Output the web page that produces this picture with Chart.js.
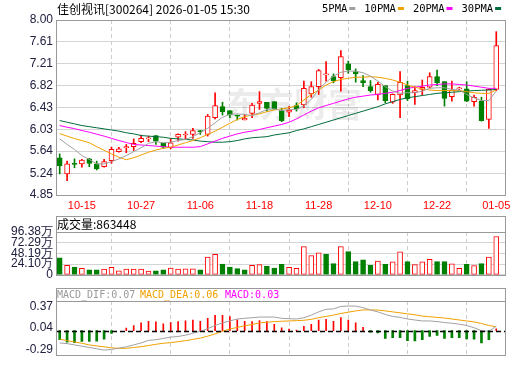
<!DOCTYPE html>
<html>
<head>
<meta charset="utf-8">
<script src="https://cdn.jsdelivr.net/npm/chart.js@4.4.1/dist/chart.umd.min.js"></script>
<style>
html, body { margin: 0; padding: 0; background: #fff; }
#wrap { position: relative; width: 520px; height: 365px; overflow: hidden; }
.pane { position: absolute; left: 0; width: 520px; }
</style>
</head>
<body>
<div id="wrap">
    <div class="pane" style="top:0;height:215px"><canvas id="kline"></canvas></div>
    <div class="pane" style="top:215px;height:70px"><canvas id="vol"></canvas></div>
    <div class="pane" style="top:285px;height:80px"><canvas id="macd"></canvas></div>
</div>
<script>
const title = '佳创视讯[300264] 2026-01-05 15:30';

const dates = ['10-10', '10-13', '10-14', '10-15', '10-16', '10-17', '10-20', '10-21', '10-22', '10-23',
    '10-24', '10-27', '10-28', '10-29', '10-30', '10-31', '11-03', '11-04', '11-05', '11-06',
    '11-07', '11-10', '11-11', '11-12', '11-13', '11-14', '11-17', '11-18', '11-19', '11-20',
    '11-21', '11-24', '11-25', '11-26', '11-27', '11-28', '12-01', '12-02', '12-03', '12-04',
    '12-05', '12-08', '12-09', '12-10', '12-11', '12-12', '12-15', '12-16', '12-17', '12-18',
    '12-19', '12-22', '12-23', '12-24', '12-25', '12-26', '12-29', '12-30', '12-31', '01-05'];
const dateTicks = ['10-15', '10-27', '11-06', '11-18', '11-28', '12-10', '12-22', '01-05'];

const openP = [5.52, 5.23, 5.42, 5.41, 5.50, 5.41, 5.36, 5.47, 5.63, 5.70,
    5.72, 5.81, 5.86, 5.92, 5.78, 5.70, 5.89, 5.93, 5.94, 6.01,
    5.94, 6.24, 6.44, 6.37, 6.29, 6.20, 6.32, 6.50, 6.52, 6.53,
    6.37, 6.34, 6.46, 6.47, 6.67, 6.80, 7.01, 6.98, 6.96, 7.21,
    7.07, 6.91, 6.80, 6.66, 6.82, 6.52, 6.65, 6.82, 6.69, 6.75,
    6.79, 6.98, 6.89, 6.62, 6.76, 6.76, 6.53, 6.54, 6.21, 6.75];
const highP = [5.59, 5.46, 5.50, 5.49, 5.51, 5.46, 5.49, 5.71, 5.71, 5.76,
    5.86, 5.93, 5.91, 5.92, 5.78, 5.87, 5.95, 5.99, 6.05, 6.01,
    6.30, 6.69, 6.52, 6.37, 6.29, 6.30, 6.50, 6.71, 6.52, 6.53,
    6.41, 6.44, 6.51, 6.90, 6.89, 7.11, 7.25, 7.03, 7.45, 7.26,
    7.12, 7.00, 6.91, 6.88, 6.82, 6.67, 7.07, 6.90, 6.80, 6.92,
    7.05, 7.10, 6.89, 6.90, 6.79, 6.89, 6.65, 6.61, 6.76, 7.79];
const lowP = [5.23, 5.11, 5.34, 5.35, 5.36, 5.30, 5.35, 5.42, 5.62, 5.61,
    5.65, 5.79, 5.81, 5.76, 5.69, 5.68, 5.82, 5.86, 5.87, 5.94,
    5.91, 6.22, 6.29, 6.24, 6.20, 6.20, 6.24, 6.39, 6.36, 6.39,
    6.17, 6.26, 6.36, 6.42, 6.61, 6.66, 6.90, 6.87, 6.72, 7.04,
    6.88, 6.80, 6.70, 6.56, 6.51, 6.50, 6.24, 6.55, 6.48, 6.65,
    6.78, 6.82, 6.45, 6.54, 6.74, 6.53, 6.45, 6.18, 6.05, 6.73];
const closeP = [5.38, 5.41, 5.40, 5.48, 5.42, 5.32, 5.45, 5.67, 5.68, 5.72,
    5.78, 5.87, 5.88, 5.82, 5.71, 5.79, 5.94, 5.945, 6.01, 5.99,
    6.27, 6.46, 6.35, 6.29, 6.27, 6.23, 6.47, 6.53, 6.41, 6.40,
    6.19, 6.38, 6.40, 6.77, 6.80, 7.09, 7.03, 6.91, 7.34, 7.10,
    7.03, 6.87, 6.73, 6.84, 6.55, 6.66, 6.88, 6.58, 6.73, 6.79,
    6.98, 6.87, 6.59, 6.74, 6.77, 6.54, 6.61, 6.19, 6.75, 7.54];

const ma5 = [5.86, 5.76, 5.67, 5.56, 5.49, 5.41, 5.41, 5.45, 5.50, 5.56,
    5.63, 5.70, 5.78, 5.81, 5.79, 5.80, 5.83, 5.85, 5.90, 5.97,
    6.05, 6.15, 6.25, 6.30, 6.31, 6.30, 6.28, 6.33, 6.39, 6.40,
    6.37, 6.39, 6.39, 6.45, 6.57, 6.75, 6.88, 6.99, 7.06, 7.08,
    7.08, 7.05, 6.99, 6.90, 6.80, 6.72, 6.68, 6.69, 6.69, 6.72,
    6.77, 6.78, 6.78, 6.75, 6.74, 6.66, 6.60, 6.55, 6.55, 6.72];
const ma10 = [5.955, 5.91, 5.865, 5.83, 5.79, 5.72, 5.655, 5.59, 5.53, 5.485,
    5.52, 5.57, 5.62, 5.66, 5.69, 5.71, 5.75, 5.79, 5.83, 5.88,
    5.94, 6.00, 6.07, 6.14, 6.21, 6.26, 6.29, 6.31, 6.35, 6.38,
    6.40, 6.42, 6.46, 6.56, 6.66, 6.74, 6.83, 6.89, 6.93, 6.95,
    6.97, 6.97, 6.98, 6.97, 6.95, 6.92, 6.88, 6.83, 6.79, 6.76,
    6.74, 6.73, 6.73, 6.73, 6.73, 6.71, 6.69, 6.68, 6.68, 6.74];
const ma20 = [6.10, 6.07, 6.045, 6.01, 5.98, 5.945, 5.91, 5.87, 5.83, 5.795,
    5.76, 5.75, 5.74, 5.73, 5.72, 5.71, 5.71, 5.71, 5.71, 5.72,
    5.77, 5.82, 5.87, 5.91, 5.95, 5.98, 6.00, 6.03, 6.06, 6.09,
    6.12, 6.16, 6.22, 6.29, 6.36, 6.42, 6.46, 6.50, 6.54, 6.58,
    6.61, 6.63, 6.65, 6.66, 6.68, 6.70, 6.73, 6.77, 6.79, 6.81,
    6.83, 6.84, 6.85, 6.85, 6.84, 6.83, 6.81, 6.79, 6.77, 6.77];
const ma30 = [6.19, 6.16, 6.13, 6.10, 6.08, 6.06, 6.04, 6.02, 6.00, 5.97,
    5.95, 5.92, 5.91, 5.90, 5.89, 5.87, 5.86, 5.85, 5.84, 5.82,
    5.81, 5.80, 5.80, 5.81, 5.83, 5.86, 5.88, 5.89, 5.90, 5.93,
    5.95, 5.97, 6.01, 6.04, 6.08, 6.12, 6.16, 6.20, 6.24, 6.28,
    6.32, 6.36, 6.40, 6.44, 6.49, 6.53, 6.57, 6.60, 6.62, 6.64,
    6.66, 6.68, 6.69, 6.70, 6.71, 6.72, 6.73, 6.735, 6.74, 6.75];

// volume in 万 (10k)
const volume = [38.4, 21.4, 17.4, 14.7, 11.2, 11.2, 12.7, 16.7, 9.2, 12.7,
    12.7, 12.7, 8.6, 9.2, 11.2, 15.3, 12.7, 13.3, 13.3, 11.2,
    39.8, 45.9, 24.1, 17.4, 13.9, 11.2, 21.4, 22.9, 19.4, 15.3,
    23.5, 16.7, 14.7, 63.7, 43.3, 49.4, 45.9, 25.5, 63.7, 52.1,
    29.6, 33.7, 21.4, 31.0, 23.5, 29.0, 51.5, 29.6, 22.9, 29.0,
    35.1, 29.6, 29.6, 24.9, 14.7, 23.5, 20.8, 25.5, 39.8, 86.3448];

const dif = [-0.19, -0.20, -0.22, -0.24, -0.26, -0.28, -0.30, -0.29, -0.27, -0.25,
    -0.22, -0.19, -0.15, -0.14, -0.12, -0.10, -0.09, -0.07, -0.04, -0.01,
    0.03, 0.08, 0.12, 0.15, 0.18, 0.19, 0.20, 0.21, 0.21, 0.21,
    0.19, 0.185, 0.18, 0.20, 0.24, 0.29, 0.33, 0.335, 0.375, 0.38,
    0.38, 0.355, 0.32, 0.29, 0.25, 0.22, 0.205, 0.18, 0.165, 0.15,
    0.15, 0.14, 0.125, 0.115, 0.10, 0.08, 0.045, 0.00, -0.01, 0.07];
const dea = [-0.13, -0.155, -0.175, -0.195, -0.22, -0.235, -0.25, -0.265, -0.273, -0.273,
    -0.26, -0.247, -0.23, -0.211, -0.195, -0.185, -0.17, -0.155, -0.135, -0.115,
    -0.085, -0.05, -0.01, 0.025, 0.05, 0.075, 0.095, 0.12, 0.13, 0.14,
    0.145, 0.15, 0.155, 0.16, 0.175, 0.20, 0.22, 0.24, 0.265, 0.285,
    0.305, 0.32, 0.32, 0.318, 0.305, 0.29, 0.275, 0.26, 0.245, 0.225,
    0.215, 0.205, 0.195, 0.18, 0.165, 0.15, 0.135, 0.11, 0.08, 0.06];
const macd = [-0.14, -0.176, -0.185, -0.167, -0.167, -0.163, -0.132, -0.044, 0, 0.04,
    0.079, 0.119, 0.145, 0.137, 0.106, 0.123, 0.141, 0.15, 0.163, 0.145,
    0.19, 0.238, 0.238, 0.216, 0.167, 0.145, 0.141, 0.154, 0.141, 0.097,
    0.044, 0.026, 0.009, 0.066, 0.097, 0.163, 0.176, 0.145, 0.203, 0.163,
    0.119, 0.053, -0.022, -0.035, -0.119, -0.11, -0.11, -0.154, -0.159, -0.141,
    -0.088, -0.075, -0.119, -0.11, -0.11, -0.128, -0.132, -0.189, -0.141, 0.03];

const priceTicks = ['4.85', '5.24', '5.64', '6.03', '6.43', '6.82', '7.21', '7.61', '8.00'];
const volTicks = ['0', '24.10万', '48.19万', '72.29万', '96.38万'];
const macdTicks = ['-0.29', '0.04', '0.37'];

const RED = '#ff0000';
const GREEN = '#008000';
const BOX = '#999999';
const maColors = { ma5: '#a0a0a0', ma10: '#f0a000', ma20: '#ff00ff', ma30: '#006b3c' };

Chart.defaults.font.family = "'Liberation Sans', Arial, sans-serif";

const idx = dates.map((_, i) => i);
const tickIdx = dateTicks.map((d) => dates.indexOf(d));
const isUp = (i) => closeP[i] >= openP[i];
const volUp = (i) => (i === 0 ? closeP[0] >= openP[0] : closeP[i] >= closeP[i - 1]);

function xAxis(showLabels) {
    return {
        type: 'linear',
        min: -0.5,
        max: 60.18,
        offset: false,
        afterBuildTicks: (scale) => {
            scale.ticks = tickIdx.map((v) => ({ value: v }));
        },
        afterFit: (scale) => {
            scale.height = showLabels ? 20 : 0;
        },
        grid: { color: '#cccccc', drawTicks: false },
        border: { display: false, dash: [4, 3] },
        ticks: {
            display: showLabels,
            autoSkip: false,
            maxRotation: 0,
            padding: 4,
            color: RED,
            font: { size: 11 },
            callback: (v) => dates[v],
        },
    };
}

function yAxis(min, max, labels, showGrid) {
    const vals = labels.map((s) => parseFloat(s));
    return {
        min,
        max,
        afterBuildTicks: (scale) => {
            scale.ticks = vals.map((v) => ({ value: v }));
        },
        afterFit: (scale) => {
            scale.width = 56;
        },
        grid: { display: showGrid, color: '#d4d4d4', drawTicks: false },
        border: { display: false },
        ticks: {
            autoSkip: false,
            padding: 3,
            color: '#202040',
            font: { size: 12 },
            callback: (v, i) => labels[i],
        },
    };
}

function strokeBox(ctx, left, top, right, bottom) {
    ctx.save();
    ctx.strokeStyle = BOX;
    ctx.lineWidth = 1;
    ctx.strokeRect(Math.round(left) + 0.5, Math.round(top) + 0.5,
        Math.round(right - left) - 1, Math.round(bottom - top) - 1);
    ctx.restore();
}

function hLine(ctx, left, right, y) {
    ctx.save();
    ctx.strokeStyle = BOX;
    ctx.lineWidth = 1;
    ctx.beginPath();
    ctx.moveTo(left, Math.round(y) + 0.5);
    ctx.lineTo(right, Math.round(y) + 0.5);
    ctx.stroke();
    ctx.restore();
}

function maLine(values, color) {
    return {
        type: 'line',
        data: idx.map((i) => ({ x: i, y: values[i] })),
        borderColor: color,
        borderWidth: 1,
        pointRadius: 0,
        tension: 0,
        order: 1,
    };
}

const baseOptions = (padding) => ({
    responsive: true,
    maintainAspectRatio: false,
    animation: false,
    layout: { padding },
    plugins: { legend: { display: false }, tooltip: { enabled: false } },
});

// ---------- K line ----------
const mainDecor = {
    id: 'mainDecor',
    beforeDatasetsDraw(chart) {
        const { ctx } = chart;
        ctx.save();
        ctx.fillStyle = 'rgba(0, 0, 0, 0.08)';
        ctx.font = "bold 34px 'Noto Sans CJK SC'";
        ctx.textBaseline = 'middle';
        ctx.fillText('东方财富', 226, 104);
        ctx.restore();
    },
    afterDraw(chart) {
        const { ctx, chartArea: a } = chart;
        strokeBox(ctx, a.left, a.top, a.right + 1, a.bottom + 1);

        ctx.save();
        ctx.textBaseline = 'middle';
        ctx.fillStyle = '#000';
        ctx.font = "12px 'Noto Sans CJK SC'";
        ctx.fillText(title, 57, 9, 198);

        ctx.font = "10.5px 'DejaVu Sans Mono'";
        let x = 322;
        [['5PMA', maColors.ma5], ['10PMA', maColors.ma10], ['20PMA', maColors.ma20], ['30PMA', maColors.ma30]]
            .forEach(([label, color]) => {
                ctx.fillStyle = '#000';
                ctx.fillText(label, x, 9);
                x += ctx.measureText(label).width;
                ctx.fillStyle = color;
                ctx.fillRect(x + 2, 7, 6, 3);
                x += 17;
            });
        ctx.restore();
    },
};

new Chart(document.getElementById('kline'), {
    type: 'bar',
    data: {
        datasets: [
            {
                data: idx.map((i) => ({ x: i, y: [lowP[i], highP[i]] })),
                backgroundColor: idx.map((i) => (isUp(i) ? RED : GREEN)),
                barThickness: 1,
                grouped: false,
                order: 3,
            },
            {
                data: idx.map((i) => ({ x: i, y: [openP[i], closeP[i]] })),
                backgroundColor: idx.map((i) => (isUp(i) ? '#ffffff' : GREEN)),
                borderColor: idx.map((i) => (isUp(i) ? RED : GREEN)),
                borderWidth: 1,
                borderSkipped: false,
                barThickness: 5,
                minBarLength: 1,
                grouped: false,
                order: 2,
            },
            maLine(ma5, maColors.ma5),
            maLine(ma10, maColors.ma10),
            maLine(ma20, maColors.ma20),
            maLine(ma30, maColors.ma30),
        ],
    },
    options: {
        ...baseOptions({ top: 20, right: 15, bottom: 0, left: 0 }),
        scales: { x: xAxis(true), y: yAxis(4.85, 8.0, priceTicks, true) },
    },
    plugins: [mainDecor],
});

// ---------- volume ----------
const volDecor = {
    id: 'volDecor',
    afterDraw(chart) {
        const { ctx, chartArea: a } = chart;
        strokeBox(ctx, a.left, 1, a.right + 1, a.bottom + 1);
        hLine(ctx, a.left, a.right, a.top);
        ctx.save();
        ctx.textBaseline = 'middle';
        ctx.fillStyle = '#000';
        ctx.font = "12px 'Noto Sans CJK SC'";
        ctx.fillText('成交量:' + Math.round(volume[volume.length - 1] * 10000), 57, 9.5);
        ctx.restore();
    },
};

new Chart(document.getElementById('vol'), {
    type: 'bar',
    data: {
        datasets: [
            {
                data: idx.map((i) => ({ x: i, y: volume[i] })),
                backgroundColor: idx.map((i) => (volUp(i) ? '#ffffff' : GREEN)),
                borderColor: idx.map((i) => (volUp(i) ? RED : GREEN)),
                borderWidth: 1,
                borderSkipped: false,
                barThickness: 5,
            },
        ],
    },
    options: {
        ...baseOptions({ top: 17, right: 15, bottom: 6, left: 0 }),
        scales: { x: xAxis(false), y: yAxis(0, 96.38, volTicks, true) },
    },
    plugins: [volDecor],
});

// ---------- MACD ----------
const macdDecor = {
    id: 'macdDecor',
    afterDatasetsDraw(chart) {
        const { ctx, chartArea: a, scales } = chart;
        const y0 = Math.round(scales.y.getPixelForValue(0)) + 0.5;
        ctx.save();
        ctx.strokeStyle = '#000';
        ctx.lineWidth = 1.5;
        ctx.setLineDash([5, 3]);
        ctx.beginPath();
        ctx.moveTo(a.left, y0);
        ctx.lineTo(a.right, y0);
        ctx.stroke();
        ctx.restore();
    },
    afterDraw(chart) {
        const { ctx, chartArea: a } = chart;
        strokeBox(ctx, a.left, 3, a.right + 1, a.bottom + 1);
        hLine(ctx, a.left, a.right, a.top);
        const last = dates.length - 1;
        ctx.save();
        ctx.textBaseline = 'middle';
        ctx.font = "10px 'DejaVu Sans Mono'";
        [['MACD_DIF:' + dif[last].toFixed(2), '#999999', 57],
            ['MACD_DEA:' + dea[last].toFixed(2), '#f0a000', 140],
            ['MACD:' + macd[last].toFixed(2), '#ff00ff', 225]].forEach(([text, color, x]) => {
            ctx.fillStyle = color;
            ctx.fillText(text, x, 10, 79);
        });
        ctx.restore();
    },
};

new Chart(document.getElementById('macd'), {
    type: 'bar',
    data: {
        datasets: [
            {
                data: idx.map((i) => ({ x: i, y: macd[i] > 0 ? macd[i] : null })),
                backgroundColor: RED,
                barThickness: 1,
                grouped: false,
                order: 3,
            },
            {
                data: idx.map((i) => ({ x: i, y: macd[i] < 0 ? macd[i] : null })),
                backgroundColor: GREEN,
                barThickness: 2,
                grouped: false,
                order: 3,
            },
            maLine(dif, '#a0a0a0'),
            maLine(dea, '#f0a000'),
        ],
    },
    options: {
        ...baseOptions({ top: 16, right: 15, bottom: 1, left: 0 }),
        scales: { x: xAxis(false), y: yAxis(-0.373, 0.458, macdTicks, false) },
    },
    plugins: [macdDecor],
});
</script>
</body>
</html>
